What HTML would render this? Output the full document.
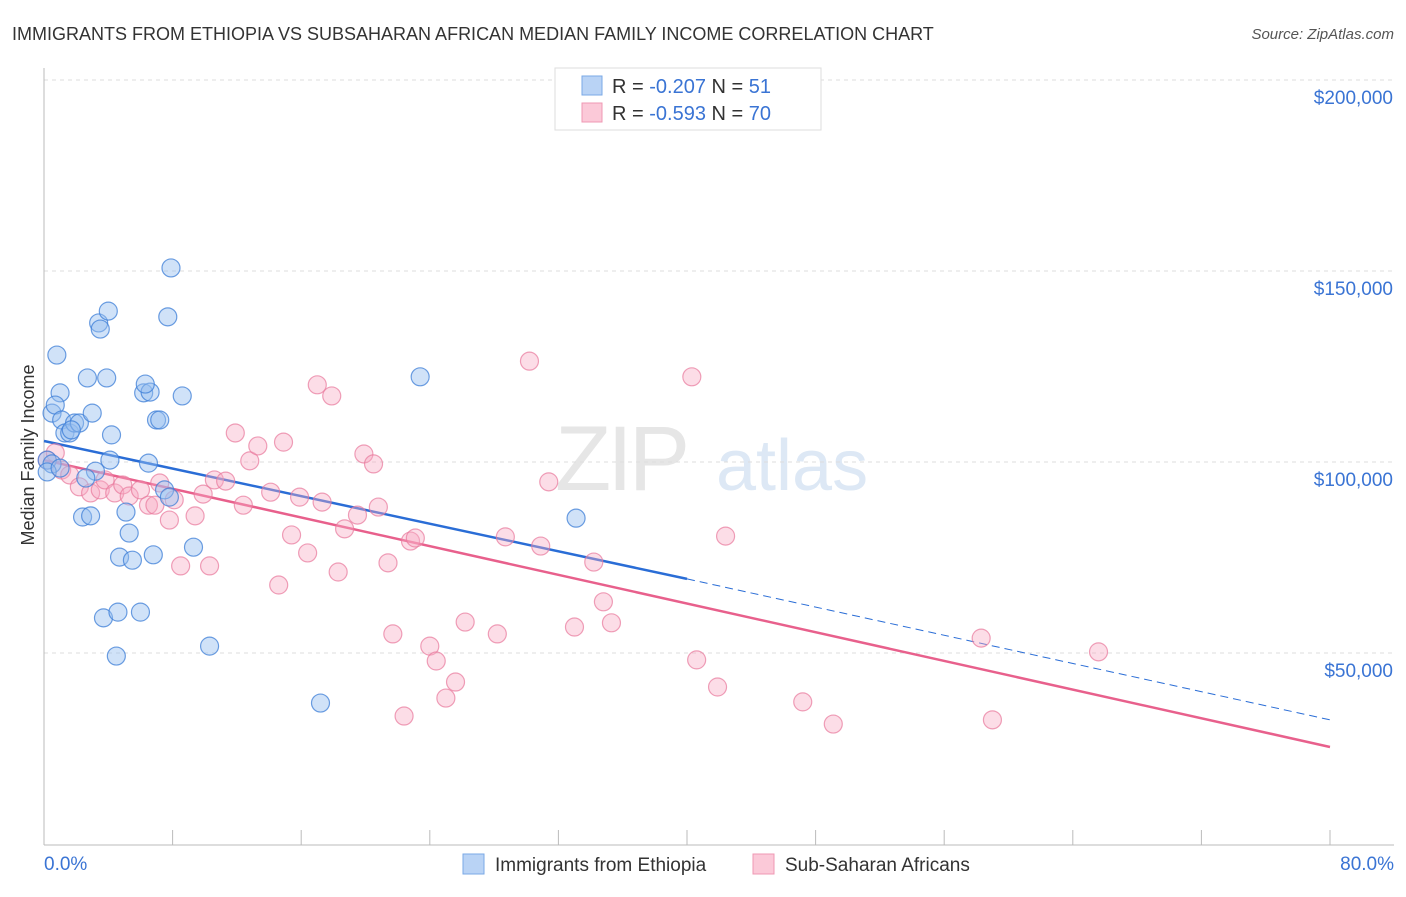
<!DOCTYPE html>
<html><head><meta charset="utf-8"><style>
body{margin:0;background:#fff;font-family:"Liberation Sans",sans-serif}
svg text{font-family:"Liberation Sans",sans-serif}
</style></head><body>
<svg width="1406" height="892" viewBox="0 0 1406 892">
<text x="12" y="40" font-size="18" fill="#333">IMMIGRANTS FROM ETHIOPIA VS SUBSAHARAN AFRICAN MEDIAN FAMILY INCOME CORRELATION CHART</text>
<text x="1394" y="39" font-size="15" fill="#555" text-anchor="end" font-style="italic">Source: ZipAtlas.com</text>
<g><text x="555" y="490" font-size="92" fill="#e6e6e6" font-family="Liberation Serif" letter-spacing="-4">ZIP</text><text x="716" y="490" font-size="72" fill="#dde8f5">atlas</text></g>
<g id="grid"></g>
<g id="axes"></g>
<text transform="translate(34,455) rotate(-90)" font-size="18" fill="#333" text-anchor="middle">Median Family Income</text>
<g id="lines"></g>
<g id="pts"></g>
<g>
<rect x="555" y="68" width="266" height="62" fill="#fff" stroke="#ddd"/>
<rect x="582" y="76" width="20" height="19" fill="#b9d3f5" stroke="#7aa8e6"/>
<rect x="582" y="103" width="20" height="19" fill="#fbc9d8" stroke="#ef98b3"/>
<text x="612" y="93" font-size="20" fill="#333">R = <tspan fill="#3a74d4">-0.207</tspan>   N = <tspan fill="#3a74d4"> 51</tspan></text>
<text x="612" y="120" font-size="20" fill="#333">R = <tspan fill="#3a74d4">-0.593</tspan>   N = <tspan fill="#3a74d4">70</tspan></text>
</g>
<g>
<rect x="463" y="854" width="21" height="20" fill="#b9d3f5" stroke="#7aa8e6"/>
<text x="495" y="871" font-size="19" fill="#333">Immigrants from Ethiopia</text>
<rect x="753" y="854" width="21" height="20" fill="#fbc9d8" stroke="#ef98b3"/>
<text x="785" y="871" font-size="19" fill="#333">Sub-Saharan Africans</text>
</g>
</svg>
<script>
const yTicks=[50,100,150,200];
const yTickLabels=["$50,000","$100,000","$150,000","$200,000"];
const xTickCount=[0,8,16,24,32,40,48,56,64,72,80];
const xLabels=["0.0%","80.0%"];
const blueX=[0.5,0.8,1.0,0.7,1.1,1.3,1.6,1.9,2.2,1.7,3.0,2.7,3.4,3.5,4.0,3.9,4.2,4.1,3.2,2.6,2.4,2.9,3.7,4.6,6.0,4.5,4.7,5.5,5.3,5.1,6.8,6.5,6.2,6.6,6.3,7.0,7.2,7.7,7.9,8.6,7.5,7.8,9.3,10.3,17.2,23.4,33.1,0.2,0.5,0.2,1.0];
const blueY=[112.8,128.0,118.1,114.9,111.0,107.6,107.6,110.2,110.2,108.4,112.8,122.0,136.4,134.8,139.5,122.0,107.1,100.5,97.6,95.8,85.6,85.9,59.2,60.7,60.7,49.2,75.1,74.3,81.4,86.9,75.7,99.7,118.1,118.3,120.4,111.0,111.0,138.0,150.8,117.3,92.7,90.8,77.7,51.8,36.9,122.3,85.3,100.5,99.5,97.4,98.4];
const pinkX=[0.2,0.7,1.1,1.6,2.2,2.9,3.5,3.8,4.4,4.9,5.3,6.0,6.5,6.9,7.2,7.8,8.1,8.5,9.4,9.9,10.3,10.6,11.3,11.9,12.4,12.8,13.3,14.1,14.6,14.9,15.4,15.9,16.4,17.3,17.0,17.9,18.3,18.7,19.5,19.9,20.5,20.8,21.4,21.7,22.4,22.8,23.1,24.0,24.4,25.0,25.6,26.2,28.2,28.7,30.2,30.9,31.4,33.0,34.2,34.8,35.3,40.3,40.6,41.9,42.4,47.2,49.1,58.3,59.0,65.6];
const pinkY=[100.5,102.4,97.9,96.6,93.5,91.9,92.7,95.3,91.9,94.0,91.1,92.7,88.7,88.7,94.5,84.8,90.1,72.8,85.9,91.6,72.8,95.3,95.0,107.6,88.7,100.3,104.2,92.1,67.8,105.2,80.9,90.8,76.2,89.5,120.2,117.3,71.2,82.5,86.1,102.1,99.5,88.2,73.6,55.0,33.5,79.3,80.1,51.8,47.9,38.2,42.4,58.1,55.0,80.4,126.4,78.0,94.8,56.8,73.8,63.4,57.9,122.3,48.2,41.1,80.6,37.2,31.4,53.9,32.5,50.3];
const blueTrend=[105.5,69.4,32.5]; // at x=0,40,80
const pinkTrend=[100.5,25.4]; // at x=0,80
const NS="http://www.w3.org/2000/svg";
const X=v=>44+v/80*1286, Y=v=>844-v*3.82;
function mk(t,a,p){const e=document.createElementNS(NS,t);for(const k in a)e.setAttribute(k,a[k]);p.appendChild(e);return e;}
const grid=document.getElementById('grid'),axes=document.getElementById('axes'),lines=document.getElementById('lines'),pts=document.getElementById('pts');
yTicks.forEach((t,i)=>{
 const l=mk('line',{x1:44,x2:1394,y1:Y(t),y2:Y(t),stroke:'#ddd','stroke-dasharray':'4,4'},grid);
 
 
 const tx=mk('text',{x:1393,y:Y(t)+24,'font-size':19,fill:'#3a74d4','text-anchor':'end'},axes);
 tx.textContent=yTickLabels[i];
 
 
});
const al=mk('line',{x1:44,x2:44,y1:68,y2:845,stroke:'#bbb'},axes);


const bl=mk('line',{x1:44,x2:1394,y1:845,y2:845,stroke:'#bbb'},axes);


xTickCount.forEach(t=>{
 const tk=mk('line',{x1:X(t),x2:X(t),y1:830,y2:845,stroke:'#bbb'},axes);
 
 
});
[[0,'start',44],[80,'end',1394]].forEach((d,i)=>{
 const tx=mk('text',{x:d[2],y:870,'font-size':19,fill:'#3a74d4','text-anchor':d[1]},axes);
 tx.textContent=xLabels[i];
 
 
});
function dots(xs,ys,fill,stroke,name){xs.forEach((x,i)=>{
 const c=mk('circle',{cx:X(x),cy:Y(ys[i]),r:9,fill:fill,stroke:stroke,'stroke-width':1.2},pts);
 
 
});}
dots(pinkX,pinkY,'rgba(248,170,195,0.4)','rgba(232,120,155,0.7)','subsaharan-point');
dots(blueX,blueY,'rgba(150,190,240,0.45)','rgba(60,125,215,0.75)','ethiopia-point');
let l1=mk('line',{x1:X(0),y1:Y(pinkTrend[0]),x2:X(80),y2:Y(pinkTrend[1]),stroke:'#e8608c','stroke-width':2.5},lines);


let l2=mk('line',{x1:X(0),y1:Y(blueTrend[0]),x2:X(40),y2:Y(blueTrend[1]),stroke:'#2a6dd6','stroke-width':2.5},lines);


let l3=mk('line',{x1:X(40),y1:Y(blueTrend[1]),x2:X(80),y2:Y(blueTrend[2]),stroke:'#2a6dd6','stroke-width':1,'stroke-dasharray':'8,5'},lines);


</script>
</body></html>
